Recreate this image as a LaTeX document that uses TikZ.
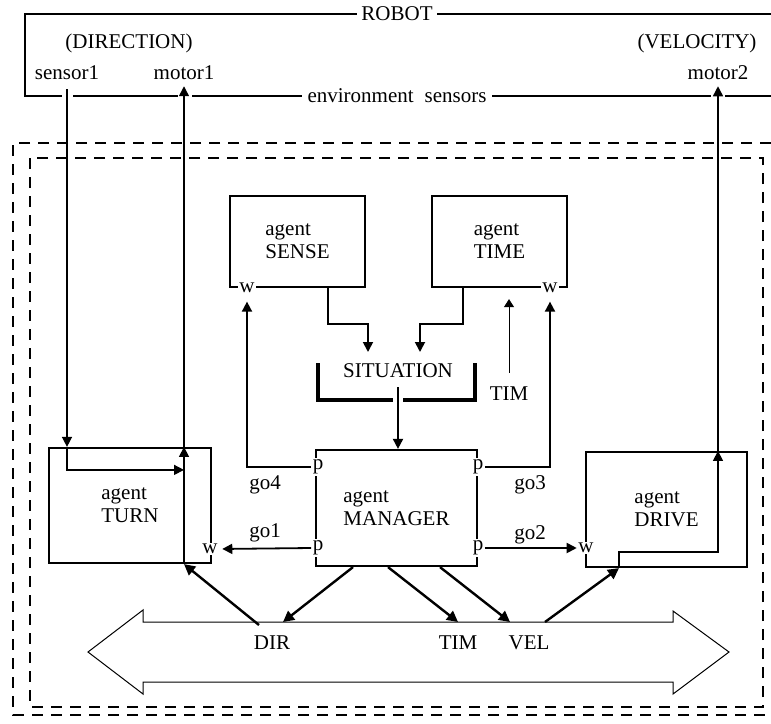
\documentclass[tikz,border=0pt]{standalone}
\usepackage{fontspec}
\setmainfont{Liberation Serif}
\usetikzlibrary{arrows.meta,calc}
\begin{document}
\begin{tikzpicture}[x=1pt,y=-1pt,
  every node/.style={font=\fontsize{21}{23}\selectfont, inner sep=0pt},
  agentbox/.style={draw, line width=2.2pt, align=left},
  port/.style={fill=white, inner sep=1.5pt},
  frame/.style={line width=2pt},
  dashbox/.style={line width=2.6pt, dash pattern=on 11pt off 8pt},
  arr/.style={-{Triangle[length=10pt,width=10pt]}, line width=1.8pt},
  thickarr/.style={-{Triangle[length=11pt,width=11pt]}, line width=2.4pt},
  thinarr/.style={-{Triangle[length=8pt,width=10pt]}, line width=0.9pt},
  bracket/.style={line width=4.2pt},
  bigarrow/.style={line width=1pt}
]
\useasboundingbox (0,0) rectangle (771,723);
\clip (0,0) rectangle (771,723);

% ROBOT frame
\draw[frame] (771,14) -- (25,14) -- (25,96) -- (62,96);
\draw[frame] (73,96) -- (178,96);
\draw[frame] (192,96) -- (711,96);
\draw[frame] (725,96) -- (771,96);
\node[fill=white, inner xsep=4pt, inner ysep=2pt] (robot) at (397,14) {ROBOT};
\node[fill=white, inner xsep=6pt, inner ysep=2pt] (env) at (397,96) {environment\hspace{11pt}sensors};
\node (dirn) at (129,43) {(DIRECTION)};
\node (velo) at (697,43) {(VELOCITY)};
\node (sensor1) at (67,73) {sensor1};
\node (motor1) at (184,73) {motor1};
\node (motor2) at (718,73) {motor2};

% dashed boxes
\draw[dashbox] (771,143) -- (13,143) -- (13,715) -- (771,715);
\draw[dashbox] (30,158) rectangle (763,707);

% agent boxes
\node[agentbox, minimum width=135, minimum height=91] (sense) at (297.5,241.5) {agent\\SENSE};
\node[agentbox, minimum width=135, minimum height=91] (time) at (499.5,241.5) {agent\\TIME};
\node[agentbox, minimum width=161, minimum height=116] (mgr) at (396.5,508) {agent\\MANAGER};
\node[agentbox, minimum width=162, minimum height=115] (turn) at (130,505.5) {agent\\TURN};
\node[agentbox, minimum width=161, minimum height=115] (drive) at (666.5,509.5) {agent\\DRIVE};

% ports
\node[port] (wS) at (247,288) {w};
\node[port] (wTi) at (550,288) {w};
\node[port] (pTL) at (318,467) {p};
\node[port] (pBL) at (318,548) {p};
\node[port] (pTR) at (478,467) {p};
\node[port] (pBR) at (478,548) {p};
\node[port] (wT) at (210,549) {w};
\node[port] (wD) at (586,548) {w};

% port connectors
\draw[arr, shorten >=7pt] (pTL.west) -| (wS.south);
\draw[arr, shorten >=7pt] (pTR.east) -| (wTi.south);
\draw[arr, shorten >=3pt] (pBL.west) -- (wT.east);
\draw[arr] (pBR.east) -- (wD.west);
\node (go4) at (265,485) {go4};
\node (go1) at (265,533) {go1};
\node (go3) at (530,485) {go3};
\node (go2) at (530,535) {go2};

% SITUATION
\node (sit) at (398,371) {SITUATION};
\draw[bracket] (318,363) -- (318,400) -- (393,400);
\draw[bracket] (403,400) -- (475,400) -- (475,363);
\coordinate (sitL) at (368,352);
\coordinate (sitR) at (420,352);
\draw[arr] ([xshift=30.5pt]sense.south) -- ++(0,36) -| (sitL);
\draw[arr] ([xshift=-36.5pt]time.south) -- ++(0,36) -| (sitR);
\draw[arr, shorten <=9pt] (sit.south) -- (sit.south |- mgr.north);

% TIM feedback
\node (timA) at (509,394) {TIM};
\draw[thinarr, shorten >=11pt] ([yshift=14pt]timA.north) -- (timA.north |- time.south);

% TURN wiring
\coordinate (tcross) at ($(motor1.south |- turn.north)+(0,23)$);
\draw[arr, line width=1.4pt, shorten <=9pt] (sensor1.south) -- (sensor1.south |- turn.north);
\draw[arr, line width=1.4pt] (sensor1.south |- turn.north) |- (tcross);
\draw[arr, line width=1.4pt] (motor1.south |- turn.south) -- (motor1.south |- turn.north);
\draw[arr, line width=1.4pt, shorten >=6pt] (motor1.south |- turn.north) -- (motor1.south);

% DRIVE wiring
\draw[arr, line width=1.4pt] ([xshift=-47.5pt]drive.south) -- ++(0,-16) -| (motor2.south |- drive.north);
\draw[arr, line width=1.4pt, shorten >=6pt] (motor2.south |- drive.north) -- (motor2.south);

% big double arrow
\draw[bigarrow] (88,652) -- (143,610) -- (143,622) -- (673,622) -- (673,611)
  -- (729,652) -- (673,694) -- (673,682) -- (143,682) -- (143,694) -- cycle;
\node (dir) at (272,643) {DIR};
\node (timB) at (458,643) {TIM};
\node (vel) at (529,643) {VEL};

% manager outputs
\coordinate (dDIR) at (283,622);
\coordinate (dTIM) at (458,622);
\coordinate (dVEL) at (510,622);
\coordinate (oDIR) at (259,625);
\coordinate (oVEL) at (545,622);
\draw[thickarr] ([xshift=-43.5pt]mgr.south) -- (dDIR);
\draw[thickarr] ([xshift=-8.5pt]mgr.south) -- (dTIM);
\draw[thickarr] ([xshift=43.5pt]mgr.south) -- (dVEL);
\draw[thickarr] (oDIR) -- (motor1.south |- turn.south);
\draw[thickarr] (oVEL) -- ([xshift=-47.5pt]drive.south);
\end{tikzpicture}
\end{document}
